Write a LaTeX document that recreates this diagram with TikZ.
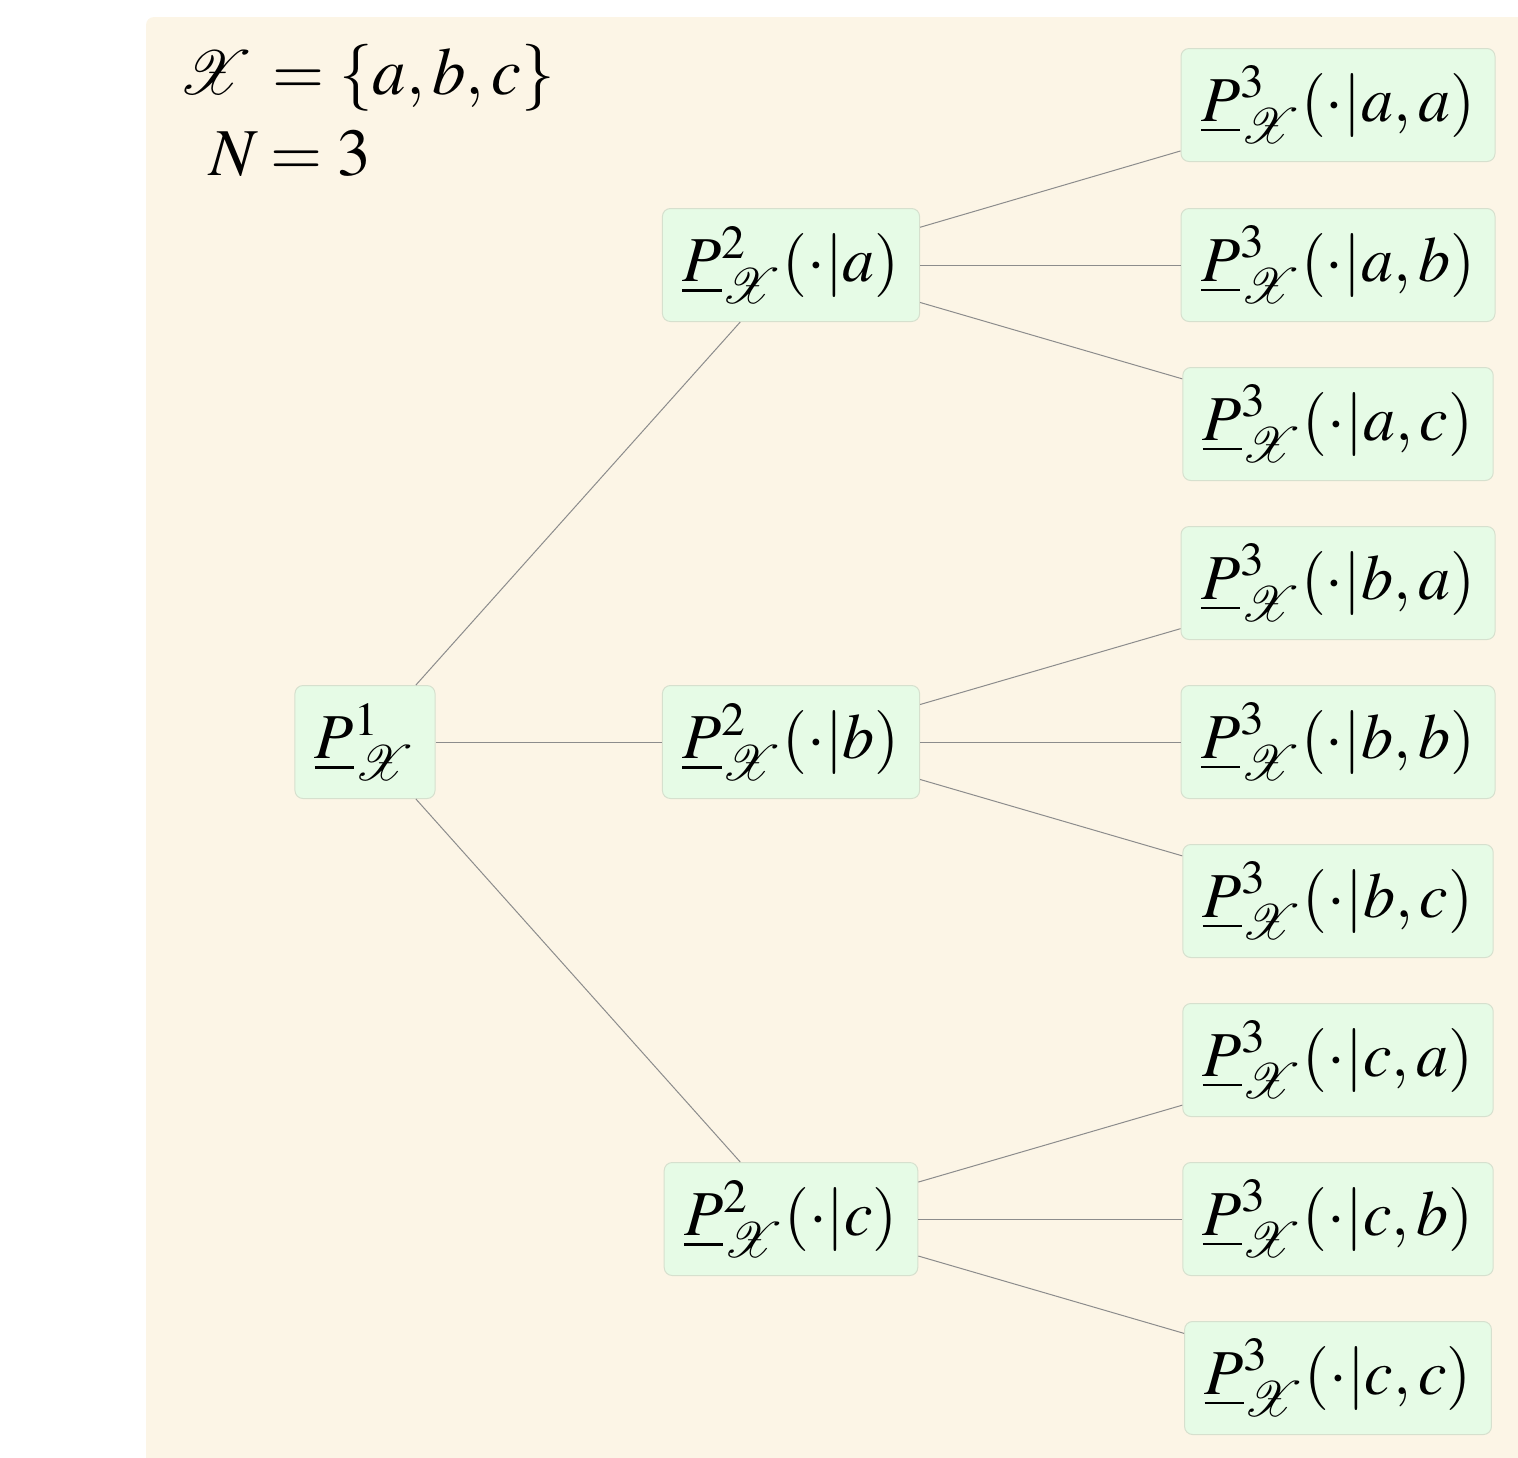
\documentclass[tikz,border=0pt]{standalone}
\usepackage{mathptmx}
\usepackage{mathrsfs}
\usepackage{amsmath}
\usepackage{graphicx}
\definecolor{bgc}{RGB}{252,245,230}
\definecolor{boxfill}{RGB}{230,251,230}
\definecolor{boxdraw}{RGB}{214,224,206}
\definecolor{edgec}{RGB}{140,140,140}
\newcommand{\PP}[1]{\underline{P}^{#1}_{\mathscr{X}}}
\begin{document}
\begin{tikzpicture}[x=0.5pt,y=-0.5pt,
  box/.style={draw=boxdraw, fill=boxfill, rounded corners=4pt, line width=0.5pt,
    minimum height=56.5pt, inner xsep=10pt, inner ysep=0pt,
    font=\fontsize{32}{38}\selectfont},
  ttl/.style={inner sep=0pt, font=\fontsize{33.5}{40}\selectfont},
  edge/.style={draw=edgec, line width=0.5pt}]
\clip (0,0) rectangle (1518,1457);
\useasboundingbox (0,0) rectangle (1518,1457);
\fill[bgc, rounded corners=4pt] (146,17) rectangle (1540,1480);
\node[ttl, anchor=base east] (t1l) at (254,94) {\scalebox{1.25}{$\mathscr{X}$}};
\node[ttl, anchor=base west] (t1r) at (272,94) {$=\{a,b,c\}$};
\node[ttl, anchor=base east] (t2l) at (259,175) {$N$};
\node[ttl, anchor=base west] (t2r) at (270,175) {$=3$};
\node[box] (p1) at (365,742) {$\PP{1}$};
\node[box] (p2a) at (791,265) {$\PP{2}(\cdot|a)$};
\node[box] (p2b) at (791,742) {$\PP{2}(\cdot|b)$};
\node[box] (p2c) at (791,1219) {$\PP{2}(\cdot|c)$};
\node[box] (p3aa) at (1338,105) {$\PP{3}(\cdot|a,a)$};
\node[box] (p3ab) at (1338,265) {$\PP{3}(\cdot|a,b)$};
\node[box] (p3ac) at (1338,424) {$\PP{3}(\cdot|a,c)$};
\node[box] (p3ba) at (1338,583) {$\PP{3}(\cdot|b,a)$};
\node[box] (p3bb) at (1338,742) {$\PP{3}(\cdot|b,b)$};
\node[box] (p3bc) at (1338,901) {$\PP{3}(\cdot|b,c)$};
\node[box] (p3ca) at (1338,1060) {$\PP{3}(\cdot|c,a)$};
\node[box] (p3cb) at (1338,1219) {$\PP{3}(\cdot|c,b)$};
\node[box] (p3cc) at (1338,1378) {$\PP{3}(\cdot|c,c)$};
\foreach \a in {a,b,c}{
  \draw[edge] (p1) -- (p2\a);
  \foreach \b in {a,b,c}{
    \draw[edge] (p2\a) -- (p3\a\b);
  }
}
\end{tikzpicture}
\end{document}
